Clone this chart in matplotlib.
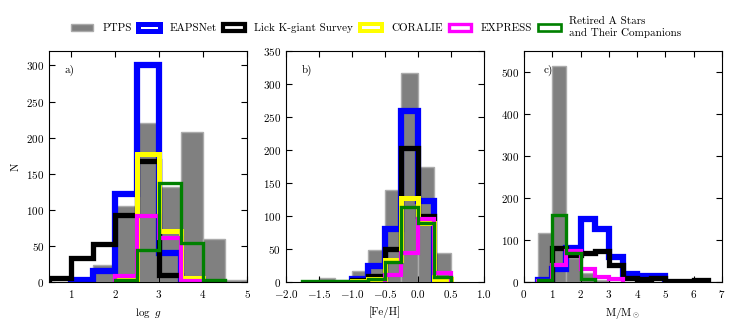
import matplotlib
matplotlib.use('Agg')
import matplotlib.pyplot as plt
from matplotlib.patches import Patch
import numpy as np

plt.rcParams['font.family'] = 'cmr10'
plt.rcParams['mathtext.fontset'] = 'cm'
plt.rcParams['axes.formatter.use_mathtext'] = True
plt.rcParams['font.size'] = 8

# survey names
surveys = ['PTPS', 'EAPSNet', 'Lick K-giant Survey', 'CORALIE', 'EXPRESS',
           'Retired A Stars\nand Their Companions']

# log g histograms (bin width 0.5)
logg_edges = [0.5, 1.0, 1.5, 2.0, 2.5, 3.0, 3.5, 4.0, 4.5, 5.0]
ptps_logg = [0, 0, 23, 105, 220, 132, 208, 59, 3]
eaps_logg = [0, 3, 15, 122, 300, 40, 3, 0, 0]
lick_logg = [5, 33, 52, 93, 168, 10, 0, 0, 0]
coralie_logg = [0, 0, 0, 3, 177, 70, 5, 0, 0]
express_logg = [0, 0, 0, 9, 92, 61, 2, 0, 0]
retired_logg = [0, 0, 0, 3, 45, 137, 54, 3, 0]

# [Fe/H] histograms (bin width 0.25)
feh_edges = [-1.75, -1.5, -1.25, -1.0, -0.75, -0.5, -0.25, 0.0, 0.25, 0.5]
ptps_feh = [1, 6, 3, 16, 49, 140, 317, 175, 44]
eaps_feh = [0, 0, 0, 4, 24, 80, 259, 123, 0]
lick_feh = [0, 0, 0, 3, 9, 50, 203, 100, 0]
coralie_feh = [0, 0, 0, 1, 5, 34, 128, 90, 4]
express_feh = [0, 0, 0, 0, 0, 10, 44, 95, 14]
retired_feh = [1, 1, 1, 2, 4, 30, 113, 90, 8]

# mass histograms (bin width 0.5)
mass_edges = [0.0, 0.5, 1.0, 1.5, 2.0, 2.5, 3.0, 3.5, 4.0, 4.5, 5.0, 5.5, 6.0, 6.5, 7.0]
ptps_mass = [0, 116, 514, 57, 22, 4, 0, 0, 0, 0, 0, 0, 0, 0]
eaps_mass = [0, 5, 30, 80, 150, 127, 60, 19, 14, 14, 0, 0, 0, 0]
lick_mass = [0, 0, 80, 65, 70, 75, 40, 10, 7, 10, 3, 3, 4, 0]
coralie_mass = [0] * 14
express_mass = [0, 2, 40, 75, 32, 12, 7, 0, 0, 0, 0, 0, 0, 0]
retired_mass = [0, 5, 160, 70, 6, 0, 0, 0, 0, 0, 0, 0, 0, 0]

colors = ['blue', 'black', 'yellow', 'magenta', 'green']
widths = [4.5, 3.8, 3.6, 3.0, 2.4]


def trim(edges, counts):
    # drop empty bins at both ends so step lines don't run along the axis
    counts = np.asarray(counts, dtype=float)
    nz = np.nonzero(counts)[0]
    if len(nz) == 0:
        return None, None
    lo, hi = nz[0], nz[-1]
    return np.asarray(edges[lo:hi + 2]), counts[lo:hi + 1]


def draw_panel(ax, edges, gray, series):
    e = np.asarray(edges)
    ax.hist(e[:-1], bins=e, weights=gray, histtype='bar', color='#808080',
            edgecolor='#ababab', linewidth=1.0)
    for counts, c, lw in zip(series, colors, widths):
        be, cc = trim(edges, counts)
        if be is None:
            continue
        ax.hist(be[:-1], bins=be, weights=cc, histtype='step', color=c,
                linewidth=lw)
    ax.tick_params(direction='in', top=True, right=True, length=4, width=0.8)
    ax.tick_params(axis='x', pad=4.5)


fig = plt.figure(figsize=(7.35, 3.24), dpi=100)
ax1 = fig.add_axes([0.0667, 0.1296, 0.2694, 0.713])
ax2 = fig.add_axes([0.3891, 0.1296, 0.2694, 0.713])
ax3 = fig.add_axes([0.7129, 0.1296, 0.2694, 0.713])

draw_panel(ax1, logg_edges, ptps_logg,
           [eaps_logg, lick_logg, coralie_logg, express_logg, retired_logg])
ax1.set_xlim(0.5, 5)
ax1.set_ylim(0, 320)
ax1.set_xticks([1, 2, 3, 4, 5])
ax1.set_yticks(range(0, 301, 50))
ax1.set_xlabel(r'$\log\ g$')
ax1.set_ylabel('N')
ax1.text(0.08, 0.905, 'a)', transform=ax1.transAxes)

draw_panel(ax2, feh_edges, ptps_feh,
           [eaps_feh, lick_feh, coralie_feh, express_feh, retired_feh])
ax2.set_xlim(-2, 1)
ax2.set_ylim(0, 350)
ax2.set_xticks(np.arange(-2.0, 1.01, 0.5))
ax2.xaxis.set_major_formatter(matplotlib.ticker.FormatStrFormatter('$%.1f$'))
ax2.set_yticks(range(0, 351, 50))
ax2.set_xlabel('[Fe/H]')
ax2.text(0.08, 0.905, 'b)', transform=ax2.transAxes)

draw_panel(ax3, mass_edges, ptps_mass,
           [eaps_mass, lick_mass, coralie_mass, express_mass, retired_mass])
ax3.set_xlim(0, 7)
ax3.set_ylim(0, 550)
ax3.set_xticks(range(0, 8))
ax3.set_yticks(range(0, 501, 100))
ax3.set_xlabel(r'M/M$_\odot$')
ax3.text(0.1, 0.905, 'c)', transform=ax3.transAxes)

handles = [Patch(facecolor='#808080', edgecolor='#ababab')]
for c, lw in zip(colors, widths):
    handles.append(Patch(facecolor='white', edgecolor=c, linewidth=lw * 0.8))
fig.legend(handles, surveys, loc='center', ncol=6, frameon=False,
           bbox_to_anchor=(0.512, 0.915), handlelength=2.0, handleheight=0.7,
           handletextpad=0.8, columnspacing=0.6, fontsize=8)

fig.savefig('out.png', dpi=100)
